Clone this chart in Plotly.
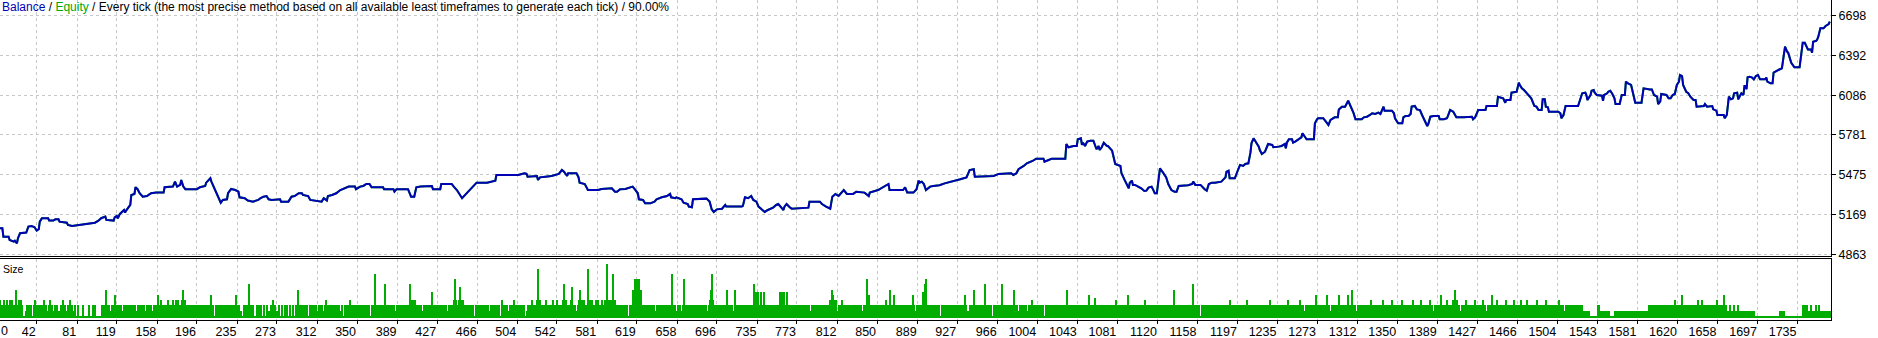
import plotly.graph_objects as go

# ---------------- data ----------------
trade_idx = [0, 9, 10, 15, 16, 20, 21, 23, 24, 26, 32, 34, 37, 40, 42, 44, 45, 47, 53, 54, 58, 60, 63, 64,
             71, 72, 76, 84, 87, 93, 98, 101, 104, 108, 109, 116, 117, 119, 120, 122, 124, 126, 127, 128,
             132, 133, 136, 137, 139, 141, 144, 148, 152, 157, 164, 165, 173, 175, 177, 180, 181, 183, 185,
             196, 199, 204, 205, 207, 209, 210, 212, 215, 217, 219, 221, 225, 226, 228, 229, 233, 236, 237,
             242, 245, 250, 255, 257, 260, 263, 265, 268, 276, 277, 284, 287, 290, 294, 297, 298, 303, 305,
             316, 318, 321, 322, 326, 330, 334, 338, 342, 348, 349, 353, 356, 359, 362, 364, 375, 376, 385,
             386, 388, 399, 402, 405, 407, 411, 422, 423, 430, 431, 441, 443, 446, 451, 453, 457, 462, 465,
             475, 483, 484, 505, 511, 513, 514, 521, 523, 524, 526, 531, 537, 544, 547, 549, 552, 553, 561,
             563, 564, 569, 572, 582, 585, 595, 598,
             600, 603, 608, 612, 615, 617, 620, 621, 625, 627, 632, 636, 638, 643, 648, 651, 652, 656, 657,
             662, 664, 668, 669, 672, 673, 686, 689, 691, 693, 696, 701, 704, 705, 720, 721, 723, 726, 729,
             731, 734, 736, 739, 742, 745, 750, 753, 755, 758, 760, 761, 763, 766, 768, 784, 785, 795, 797,
             801, 805, 807, 810, 813, 816, 818, 821, 827, 830, 838, 842, 843, 851, 856, 861, 862, 875, 877,
             879, 885, 888, 890, 891,
             893, 895, 897, 899, 901, 904, 910, 915, 922, 927, 930, 936, 939, 943, 944, 962, 967, 979, 981,
             984, 986, 991, 994, 1000, 1003, 1010, 1011, 1015, 1018, 1031, 1032, 1034, 1039, 1042, 1043,
             1046, 1047, 1048, 1050, 1052, 1055, 1058, 1060, 1061, 1063, 1064, 1066, 1068, 1071, 1072, 1076,
             1077, 1079, 1084, 1085, 1088, 1090, 1092, 1093, 1095, 1096, 1098, 1101, 1103, 1104, 1107, 1109,
             1111, 1114, 1116, 1117, 1119, 1121, 1122, 1125, 1128, 1130, 1133, 1136, 1138, 1140, 1146, 1149,
             1153, 1154, 1156, 1161, 1165, 1167, 1169, 1172, 1175, 1181,
             1185, 1186, 1188, 1189, 1194, 1196, 1197, 1199, 1202, 1204, 1207, 1209, 1210, 1212, 1214, 1217,
             1218, 1220, 1223, 1225, 1226, 1230, 1231, 1236, 1239, 1242, 1243, 1244, 1246, 1249, 1250, 1252,
             1255, 1258, 1259, 1261, 1263, 1270, 1271, 1273, 1274, 1279, 1282, 1284, 1286, 1290, 1293, 1294,
             1297, 1300, 1303, 1305, 1308, 1310, 1313, 1316, 1318, 1321, 1324, 1326, 1329, 1332, 1334, 1335,
             1337, 1338, 1345, 1347, 1348, 1351, 1355, 1356, 1358, 1361, 1363, 1364, 1367, 1369, 1372, 1374,
             1377, 1379, 1380, 1382, 1385, 1390, 1391, 1395, 1398, 1401, 1404, 1407, 1414, 1422, 1423, 1425,
             1428, 1435, 1436, 1446, 1447, 1452, 1454, 1455, 1459, 1460, 1465, 1467, 1468, 1470, 1472, 1474,
             1476, 1478,
             1479, 1482, 1484, 1486, 1489, 1490, 1492, 1493, 1495, 1496, 1505, 1507, 1508, 1510, 1512, 1524,
             1526, 1528, 1531, 1532, 1533, 1536, 1537, 1539, 1540, 1542, 1547, 1548, 1549, 1552, 1553, 1555,
             1557, 1559, 1560, 1564, 1566, 1569, 1570, 1572, 1575, 1576, 1579, 1585, 1587, 1593, 1595, 1597,
             1600, 1601, 1603, 1604, 1609, 1611, 1613, 1615, 1617, 1619, 1621, 1622, 1624, 1625, 1627, 1628,
             1630, 1632, 1635, 1637, 1638, 1641, 1645, 1646, 1648, 1653, 1654, 1657, 1658, 1664, 1665, 1667,
             1668, 1669, 1671, 1673, 1674, 1677, 1678, 1680, 1681, 1683, 1684, 1685, 1686, 1687, 1689, 1691,
             1693, 1695, 1697, 1699, 1704, 1705, 1706, 1709, 1711, 1712, 1715, 1718, 1720, 1721, 1723, 1725,
             1726, 1729, 1732, 1737, 1740, 1742, 1745, 1748, 1749, 1750, 1753, 1754, 1755, 1757, 1760, 1762,
             1765, 1766]

balance = [5067, 5067, 5003, 5003, 4978, 4965, 4972, 4952, 4991, 5029, 5034, 5080, 5085, 5075, 5049, 5060,
           5118, 5144, 5144, 5126, 5126, 5136, 5136, 5118, 5110, 5093, 5085, 5093, 5100, 5105, 5110, 5123,
           5144, 5156, 5131, 5126, 5151, 5161, 5144, 5177, 5194, 5207, 5187, 5202, 5246, 5322, 5330, 5381,
           5366, 5335, 5309, 5314, 5335, 5340, 5340, 5381, 5386, 5424, 5386, 5399, 5437, 5386, 5366, 5366,
           5381, 5391, 5416, 5437, 5450, 5424, 5386, 5335, 5304, 5263, 5284, 5289, 5335, 5360, 5368, 5360,
           5347, 5304, 5297, 5279, 5271, 5284, 5297, 5309, 5314, 5289, 5284, 5289, 5271, 5271, 5309, 5314,
           5335, 5335, 5322, 5314, 5284,
           5271, 5297, 5279, 5314, 5322, 5335, 5360, 5373, 5386, 5386, 5366, 5386, 5391, 5406, 5406, 5381,
           5381, 5366, 5366, 5347, 5366, 5366, 5309, 5309, 5381, 5386, 5391, 5366, 5366, 5406, 5406, 5386,
           5360, 5297, 5314, 5340, 5386, 5416, 5416, 5432, 5475, 5475, 5488, 5483, 5462, 5462, 5467, 5437,
           5457, 5462, 5467, 5483, 5513, 5500, 5467, 5488, 5488, 5457, 5416, 5406, 5360, 5360, 5368, 5373,
           5347,
           5347, 5366, 5368, 5381, 5386, 5366, 5335, 5289, 5284, 5258, 5258, 5271, 5289, 5304, 5314, 5330,
           5304, 5297, 5304, 5289, 5263, 5253, 5233, 5228, 5289, 5294, 5271, 5212, 5192, 5212, 5217, 5246,
           5233, 5233, 5238, 5304, 5297, 5314, 5284, 5271, 5233, 5212, 5192, 5207, 5225, 5246, 5253, 5225,
           5207, 5233, 5253, 5228, 5217, 5225, 5271, 5271, 5253, 5233, 5217, 5309, 5330, 5314, 5347, 5360,
           5330, 5330, 5347, 5340, 5314, 5340, 5360, 5381, 5406, 5360, 5360, 5381, 5340, 5340, 5366, 5432,
           5416,
           5424, 5406, 5360, 5373, 5386, 5391, 5396, 5411, 5424, 5437, 5442, 5457, 5513, 5519, 5462, 5467,
           5483, 5488, 5475, 5488, 5519, 5544, 5564, 5584, 5600, 5600, 5577, 5590, 5600, 5600, 5712, 5687,
           5697, 5697, 5748, 5756, 5705, 5722, 5697, 5730, 5737, 5737, 5687, 5672, 5697, 5666, 5687, 5722,
           5697, 5697, 5661, 5620, 5559, 5544, 5488, 5437, 5399, 5373, 5416, 5432, 5399, 5399, 5386, 5381,
           5373, 5353, 5355, 5378, 5386, 5353, 5335, 5335, 5462, 5526, 5493, 5457, 5406, 5360, 5347, 5347,
           5391, 5396, 5396, 5406, 5424, 5399, 5399, 5366, 5355, 5406, 5416, 5416, 5424,
           5457, 5500, 5508, 5450, 5450, 5500, 5513, 5552, 5544, 5559, 5564, 5646, 5717, 5756, 5730, 5692,
           5666, 5636, 5653, 5697, 5712, 5705, 5687, 5692, 5697, 5712, 5679, 5722, 5748, 5748, 5722, 5730,
           5748, 5763, 5794, 5773, 5748, 5748, 5870, 5901, 5909, 5909, 5883, 5858, 5896, 5916, 5916, 5977,
           5998, 5998, 6043, 6011, 5952, 5901, 5901, 5901, 5916, 5921, 5934, 5947, 5942, 5952, 5942, 5959,
           5998, 5967, 5967, 5947, 5909, 5870, 5870, 5916, 5926, 5926, 5942, 5998, 6003, 5977, 5972, 5934,
           5883, 5850, 5865, 5921, 5926, 5926, 5901, 5901, 5909, 5972, 5959, 5916, 5916, 5921, 5901, 5916,
           5972, 5972, 6003, 6003, 6074, 6062, 6028, 6049, 6049, 6105, 6112, 6181, 6164, 6138, 6125, 6105,
           6087, 6069,
           6062, 6003, 5998, 5972, 5972, 6054, 6054, 5998, 5993, 5959, 5959, 5947, 5909, 5934, 6003, 6003,
           6049, 6100, 6105, 6087, 6049, 6087, 6120, 6125, 6105, 6087, 6082, 6043, 6087, 6100, 6112, 6120,
           6095, 6062, 6018, 6018, 6087, 6087, 6189, 6176, 6164, 6125, 6028, 6028, 6138, 6130, 6130, 6087,
           6074, 6018, 6036, 6095, 6087, 6062, 6062, 6087, 6095, 6164, 6189, 6240, 6232, 6164, 6130, 6112,
           6100, 6074, 6049, 6049, 5998, 5998, 6003, 6018, 5998, 6003, 5977, 5967, 5934, 5934, 5909, 5934,
           5993, 6074, 6054, 6062, 6100, 6105, 6054, 6087, 6100, 6087, 6156, 6156, 6131, 6222, 6227, 6222,
           6207, 6232, 6240, 6207, 6207, 6222, 6189, 6176, 6176, 6258, 6273, 6284, 6291, 6342, 6457, 6418,
           6411, 6334, 6299, 6299, 6487, 6487, 6436, 6436, 6411, 6495, 6502, 6513, 6533, 6597, 6597, 6615,
           6630, 6648]

equity = list(balance)

# lot size per trade, in 0.01 lots, one base-36 character per trade (blocks of 40 trades)
lot_blocks = [
    "5535535753 5757357575 35b5575751 1135153515",
    "7515351557 1531571513 5153151715 3151715315",
    "1151111511 1151115151 111115151b 3553515935",
    "5155315153 5515151535 1515553151 5153151559",
    "5575553575 5357557575 357b575553 5155351515",
    "1515153515 9151535151 5351515351 5153951531",
    "151515d151 5111515151 1515131517 1513151151",
    "1515115151 153b515351 5151151515 5535355315",
    "7515153515 1515315151 5157515351 5151515153",
    "5151535h51 5153515d51 5351515351 5153515351",
    "5d75757535 5353535353 53a5153515 5153515351",
    "5357f7357c 7575355153 5151535351 5153515315",
    "1515153517 5151531515 1715151535 1513515175",
    "5157j57515 3575153575 357515157d 5753517c55",
    "5357b57575 35j5757535 7575357575 l57575h575",
    "5153515153 51535b5fbf bf5b515351 5153515353",
    "5153515351 515h515315 1535f51535 1515351535",
    "5153515357 bh75351535 153515b515 153b515351",
    "5153515355 53d5a5a5a5 5a55355351 5153515a5a",
    "5a5a553515 1515153515 1515153515 1515351515",
    "5153575b97 5735157535 1535153515 3515153515",
    "f595351535 5153515357 35b5359515 3515351535",
    "5353595353 5353a5df53 5151515151 5151515151",
    "5151515151 5153595315 355b535153 5153d51535",
    "5153515351 d515351535 15b5153515 3515315157",
    "5153515353 5153515351 5351535353 535b535555",
    "5153515353 5153953555 8555555555 5553555355",
    "7553535555 5955355355 5353555575 5555555555",
    "5555535355 535355b535 1515151515 1515d51515",
    "5151515151 5151515155 5555555557 5555555555",
    "5555557555 5555555555 5555555575 5555555555",
    "5355575535 5535355755 5355353555 5595535355",
    "5559553555 5535955355 5559553b55 5355535555",
    "5535575553 5535557553 5535575553 5355575535",
    "5535575535 5357553555 3575535553 5595535575",
    "553575b575 5355357553 5355575535 5357553555",
    "5955357553 5535575535 5575535557 5535575535",
    "5535575535 5357553555 3555557553 5355535535",
    "5355535553 3333331111 1115533333 3333311111",
    "3333333333 3333333333 3131333333 3355353553",
    "5535555555 5555555755 5555955555 5555555557",
    "5557555555 5555555575 5555955333 5333533353",
    "3333333333 3333111111 1111111111 1111111133",
    "3331111111 1111111111 5555533353 3335335333",
    "3333333",
]

y_tick_vals = [4863, 5169, 5475, 5781, 6086, 6392, 6698]
x_tick_vals = [42, 81, 119, 158, 196, 235, 273, 312, 350, 389, 427, 466, 504, 542, 581, 619, 658, 696,
               735, 773, 812, 850, 889, 927, 966, 1004, 1043, 1081, 1120, 1158, 1197, 1235, 1273, 1312,
               1350, 1389, 1427, 1466, 1504, 1543, 1581, 1620, 1658, 1697, 1735]
x_tick_text = [str(v) for v in x_tick_vals]

title_text = ("<span style='color:#0000b4'>Balance</span> / "
              "<span style='color:#00a800'>Equity</span> / Every tick (the most precise method based on "
              "all available least timeframes to generate each tick) / 90.00%")

# ---------------- build ----------------
lots = []
for blk in lot_blocks:
    lots.extend(int(c, 36) / 100.0 for c in blk.replace(" ", ""))
lot_trades = list(range(len(lots)))

BLUE = "#0000b4"
GREEN_LINE = "#00a800"
GREEN_BAR = "#00ad00"
GRID = "#c8c8c8"
AX_FONT = dict(family="Liberation Sans, Arial, sans-serif", size=12.5, color="black")
X_RANGE = [6.73, 1767.2]

fig = go.Figure()
fig.add_trace(go.Scatter(x=trade_idx, y=equity, mode="lines",
                         line=dict(color=GREEN_LINE, width=2), xaxis="x", yaxis="y", hoverinfo="skip"))
fig.add_trace(go.Scatter(x=trade_idx, y=balance, mode="lines",
                         line=dict(color=BLUE, width=2), xaxis="x", yaxis="y"))
fig.add_trace(go.Bar(x=lot_trades, y=lots, width=1.0,
                     marker=dict(color=GREEN_BAR, line=dict(width=0)), xaxis="x2", yaxis="y2"))

fig.update_layout(
    width=1878, height=338,
    margin=dict(l=0, r=47, t=0, b=18),
    paper_bgcolor="white", plot_bgcolor="white",
    showlegend=False, bargap=0,
    xaxis=dict(domain=[0, 1], anchor="y", range=X_RANGE, tickvals=x_tick_vals,
               showticklabels=False, ticks="",
               showgrid=True, gridcolor=GRID, gridwidth=1, griddash="3px,3px",
               showline=True, linecolor="black", linewidth=1, zeroline=False),
    yaxis=dict(domain=[0.2, 1], anchor="x", side="right", range=[4855, 6814],
               tickvals=y_tick_vals, ticks="outside", ticklen=4, tickcolor="black",
               tickfont=AX_FONT,
               showgrid=True, gridcolor=GRID, gridwidth=1, griddash="3px,3px",
               showline=True, linecolor="black", linewidth=1, zeroline=False),
    xaxis2=dict(domain=[0, 1], anchor="y2", range=X_RANGE, tickvals=x_tick_vals, ticktext=x_tick_text,
                ticks="outside", ticklen=3, tickcolor="black", ticklabelposition="outside left",
                tickfont=AX_FONT,
                showgrid=True, gridcolor=GRID, gridwidth=1, griddash="3px,3px",
                showline=True, mirror=True, linecolor="black", linewidth=1, zeroline=False),
    yaxis2=dict(domain=[0, 0.190625], anchor="x2", side="right", range=[-0.0065, 0.228],
                showticklabels=False, ticks="", showgrid=False,
                showline=True, linecolor="black", linewidth=1, zeroline=False),
)

fig.add_annotation(xref="paper", yref="paper", x=0, y=1, xanchor="left", yanchor="top",
                   text=title_text, showarrow=False, xshift=0, yshift=2,
                   font=dict(family="Liberation Sans, Arial", size=12, color="black"))
fig.add_annotation(xref="paper", yref="paper", x=0, y=0.190625, xanchor="left", yanchor="top",
                   text="Size", showarrow=False, xshift=1, yshift=-2,
                   font=dict(family="Liberation Sans, Arial", size=10.5, color="black"))
fig.add_annotation(xref="paper", yref="paper", x=0, y=0, xanchor="left", yanchor="top",
                   text="0", showarrow=False, xshift=-1, yshift=-2,
                   font=AX_FONT)

fig.write_html("out.html")
